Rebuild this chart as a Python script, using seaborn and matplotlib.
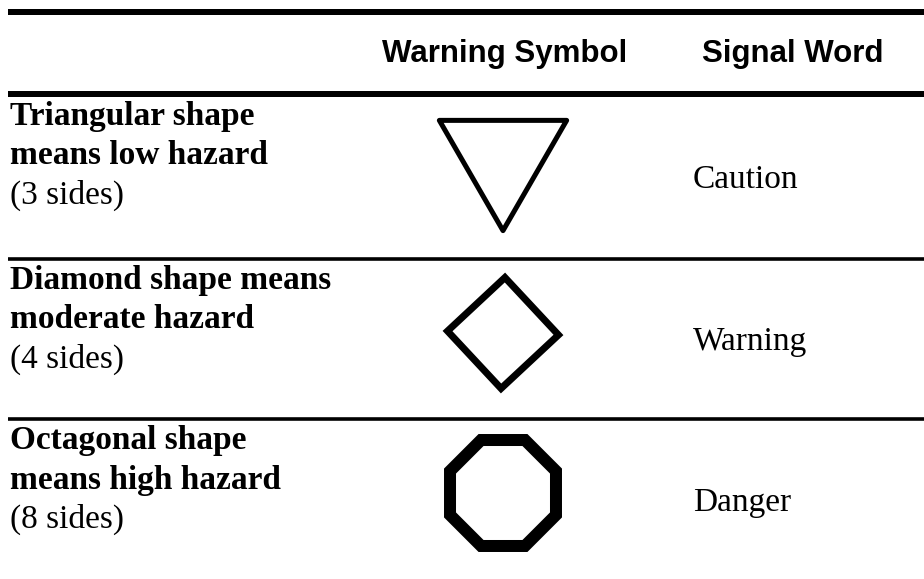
import matplotlib
matplotlib.use("Agg")
import matplotlib.pyplot as plt
import seaborn as sns
import pandas as pd

# ---- data ----
header_labels = ["Warning Symbol", "Signal Word"]
row_titles = [
    ["Triangular shape", "means low hazard"],
    ["Diamond shape means", "moderate hazard"],
    ["Octagonal shape", "means high hazard"],
]
sides = [3, 4, 8]
signal_words = ["Caution", "Warning", "Danger"]

# ---- style / layout ----
sns.set_theme(style="white")
plt.rcParams["font.family"] = ["Liberation Serif", "DejaVu Serif"]
plt.rcParams["text.color"] = "black"

W, H = 924, 579
fig = plt.figure(figsize=(W / 100, H / 100), dpi=100)
ax = fig.add_axes([0, 0, 1, 1])
ax.set_xlim(0, W)
ax.set_ylim(H, 0)
ax.axis("off")

PT = 72 / 100  # points per pixel

# rules
line_x0 = 8
ax.hlines([12, 94], line_x0, W, color="black", linewidth=6 * PT)
row_tops = [97, 261, 421]
row_bottoms = [257, 417, 579]
ax.hlines([259, 419.2], line_x0, W, color="black", linewidth=3.6 * PT)

# headers
col_sym_x = 503
col_word_x = 693
sans = ["Liberation Sans", "DejaVu Sans"]
ax.text(504.5, 62, header_labels[0], fontsize=22.5, fontweight="bold",
        family=sans, color="black", ha="center", va="baseline")
ax.text(792.5, 62, header_labels[1], fontsize=22.5, fontweight="bold",
        family=sans, color="black", ha="center", va="baseline")

# marker styles by number of sides
marker_spec = {
    3: dict(angle=180, size_px=147, lw_px=5.0, join="round", dy=-1.5),
    4: dict(angle=-2, size_px=111, lw_px=7.0, join="miter", dy=-6),
    8: dict(angle=22.5, size_px=114.7, lw_px=12.0, join="miter", dy=-7),
}

for i, (title, n, word) in enumerate(zip(row_titles, sides, signal_words)):
    top, bot = row_tops[i], row_bottoms[i]
    center = (top + bot) / 2

    # row label
    base = top + 28
    for k, line in enumerate(title):
        ax.text(10, base + k * 39.5, line, fontsize=24, fontweight="bold",
                color="black", ha="left", va="baseline")
    ax.text(10, base + 2 * 39.5, f"({n} sides)", fontsize=24,
            color="black", ha="left", va="baseline")

    # signal word
    ax.text(col_word_x, center + 11, word, fontsize=24, color="black",
            ha="left", va="baseline")

    # symbol
    spec = marker_spec[n]
    R = spec["size_px"] / 2
    y = center + spec["dy"]
    if n == 3:
        y = y - R / 4  # visual centre -> circumcentre for a down triangle
    df = pd.DataFrame({"x": [col_sym_x], "y": [y]})
    sns.scatterplot(data=df, x="x", y="y", ax=ax, marker=(n, 0, spec["angle"]),
                    s=(spec["size_px"] * PT) ** 2, facecolor="none",
                    edgecolor="black", linewidth=spec["lw_px"] * PT,
                    joinstyle=spec["join"], legend=False, zorder=3)

ax.set_xlim(0, W)
ax.set_ylim(H, 0)
ax.axis("off")
fig.savefig("out.png", dpi=100, facecolor="white")
